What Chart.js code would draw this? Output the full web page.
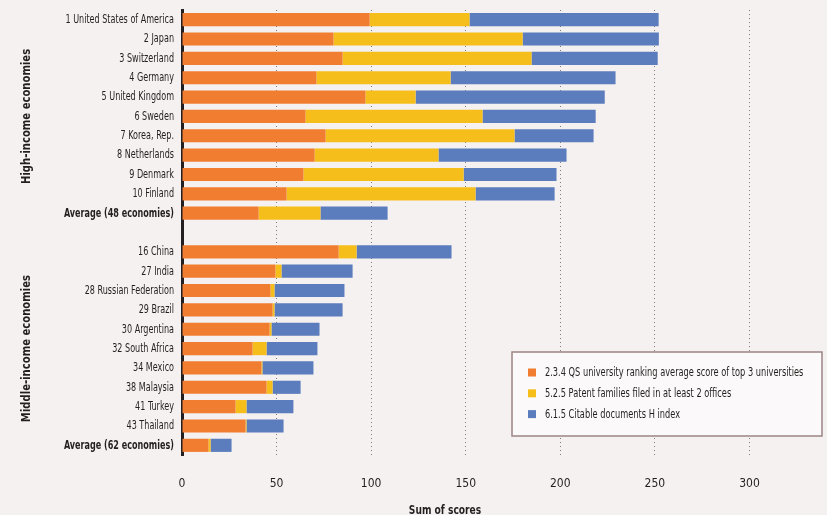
<!DOCTYPE html>
<html>
<head>
<meta charset="utf-8">
<script src="https://cdn.jsdelivr.net/npm/chart.js@4/dist/chart.umd.min.js"></script>
<style>
  html, body { margin: 0; padding: 0; background: #f5f1f1; }
  #wrap { position: relative; width: 827px; height: 515px; }
  canvas { display: block; }
</style>
</head>
<body>
<div id="wrap"><canvas id="c" width="827" height="515"></canvas></div>
<script>
const categories = ['1 United States of America', '2 Japan', '3 Switzerland', '4 Germany', '5 United Kingdom', '6 Sweden', '7 Korea, Rep.', '8 Netherlands', '9 Denmark', '10 Finland', 'Average (48 economies)', '', '16 China', '27 India', '28 Russian Federation', '29 Brazil', '30 Argentina', '32 South Africa', '34 Mexico', '38 Malaysia', '41 Turkey', '43 Thailand', 'Average (62 economies)'];
const qsScores = [99.2, 80.1, 84.9, 71.1, 97.0, 65.3, 75.9, 70.1, 64.2, 55.3, 40.5, null, 82.8, 49.4, 46.8, 47.9, 46.3, 37.3, 42.0, 44.7, 28.3, 33.6, 14.0];
const patentFamilies = [52.8, 100.0, 99.9, 70.9, 26.5, 93.6, 99.9, 65.5, 84.7, 99.9, 32.7, null, 9.5, 3.2, 2.1, 1.0, 1.0, 7.4, 0.5, 3.2, 5.8, 0.5, 1.1];
const citableH = [100.0, 72.0, 66.7, 87.2, 100.0, 59.8, 41.8, 67.7, 49.1, 41.8, 35.5, null, 50.2, 37.6, 37.0, 36.0, 25.4, 26.9, 27.0, 14.8, 24.8, 19.6, 11.1];
const seriesNames = ['2.3.4 QS university ranking average score of top 3 universities', '5.2.5 Patent families filed in at least 2 offices', '6.1.5 Citable documents H index'];
const xTicks = [0, 50, 100, 150, 200, 250, 300];
const groupLabels = ['High-income economies', 'Middle-income economies'];
const groupStart = [0, 12];
const groupEnd = [10, 22];
const boldRows = ['Average (48 economies)', 'Average (62 economies)'];
const xTitle = 'Sum of scores';

const FONT = "'DejaVu Sans Condensed', 'DejaVu Sans', sans-serif";
const TXT = '#231f20';
const colors = ['#f07d30', '#f6be1a', '#5b7dbd'];
const SQUEEZE = 0.69;

// Category scale whose labels are drawn horizontally condensed (to mimic a condensed typeface)
class NarrowCategoryScale extends Chart.CategoryScale {
  drawLabels(chartArea) {
    const ctx = this.ctx;
    const ax = this.right - this.options.ticks.padding;
    ctx.save();
    ctx.translate(ax, 0);
    ctx.scale(SQUEEZE, 1);
    ctx.translate(-ax, 0);
    super.drawLabels(chartArea);
    ctx.restore();
  }
}
NarrowCategoryScale.id = 'narrowCategory';
NarrowCategoryScale.defaults = Chart.CategoryScale.defaults;
Chart.register(NarrowCategoryScale);

function squeezedText(ctx, text, x, y, sx) {
  ctx.save();
  ctx.translate(x, y);
  ctx.scale(sx, 1);
  ctx.fillText(text, 0, 0);
  ctx.restore();
}

const overlay = {
  id: 'overlay',
  afterDraw(chart) {
    const ctx = chart.ctx;
    const y = chart.scales.y;
    ctx.save();
    ctx.fillStyle = TXT;
    ctx.textBaseline = 'middle';
    // group labels (rotated)
    ctx.font = "bold 13px " + FONT;
    ctx.textAlign = 'center';
    for (let g = 0; g < groupLabels.length; g++) {
      const cy = (y.getPixelForValue(groupStart[g]) + y.getPixelForValue(groupEnd[g])) / 2;
      ctx.save();
      ctx.translate(27, cy);
      ctx.rotate(-Math.PI / 2);
      ctx.scale(0.86, 1);
      ctx.fillText(groupLabels[g], 0, 0);
      ctx.restore();
    }
    // x title
    ctx.font = "bold 13px " + FONT;
    squeezedText(ctx, xTitle, 445, 511, 0.78);
    // legend
    const lx = 512, ly = 352, lw = 310, lh = 84;
    ctx.fillStyle = '#fbf9f9';
    ctx.fillRect(lx, ly, lw, lh);
    ctx.strokeStyle = '#9c8484';
    ctx.lineWidth = 1.5;
    ctx.strokeRect(lx, ly, lw, lh);
    ctx.font = "13px " + FONT;
    ctx.textAlign = 'left';
    chart.data.datasets.forEach((ds, i) => {
      const cy = 372.5 + i * 20.8;
      ctx.fillStyle = ds.backgroundColor;
      ctx.fillRect(528, cy - 4, 8, 8);
      ctx.fillStyle = TXT;
      squeezedText(ctx, ds.label, 545, cy + 0.5, 0.705);
    });
    ctx.restore();
  }
};

new Chart(document.getElementById('c'), {
  type: 'bar',
  data: {
    labels: categories,
    datasets: [
      { label: seriesNames[0], data: qsScores, backgroundColor: colors[0] },
      { label: seriesNames[1], data: patentFamilies, backgroundColor: colors[1] },
      { label: seriesNames[2], data: citableH, backgroundColor: colors[2] }
    ]
  },
  options: {
    indexAxis: 'y',
    responsive: false,
    animation: false,
    maintainAspectRatio: false,
    layout: { padding: { top: 10, right: 0, bottom: 24, left: 0 } },
    datasets: { bar: { categoryPercentage: 1.0, barPercentage: 0.68 } },
    plugins: { legend: { display: false }, tooltip: { enabled: false } },
    scales: {
      x: {
        stacked: true,
        min: 0,
        max: 341,
        afterBuildTicks(scale) { scale.ticks = xTicks.map(v => ({ value: v })); },
        afterFit(scale) { scale.height = 36; scale.paddingLeft = 0; scale.paddingRight = 0; },
        border: { display: false, dash: [1, 3] },
        grid: {
          drawTicks: false,
          color: ctx => ctx.tick && ctx.tick.value === 0 ? 'rgba(0,0,0,0)' : '#7d7d7d',
          lineWidth: 1
        },
        ticks: { padding: 22, color: TXT, font: { family: FONT, size: 12 } }
      },
      y: {
        type: 'narrowCategory',
        stacked: true,
        afterFit(scale) { scale.width = 182; scale.paddingTop = 0; scale.paddingBottom = 0; },
        border: { display: true, color: '#231f20', width: 3 },
        grid: { display: false, drawTicks: false },
        ticks: {
          padding: 8,
          color: TXT,
          autoSkip: false,
          font: ctx => ({ family: FONT, size: 13, weight: boldRows.includes(categories[ctx.index]) ? 'bold' : 'normal' })
        }
      }
    }
  },
  plugins: [overlay]
});
</script>
</body>
</html>
